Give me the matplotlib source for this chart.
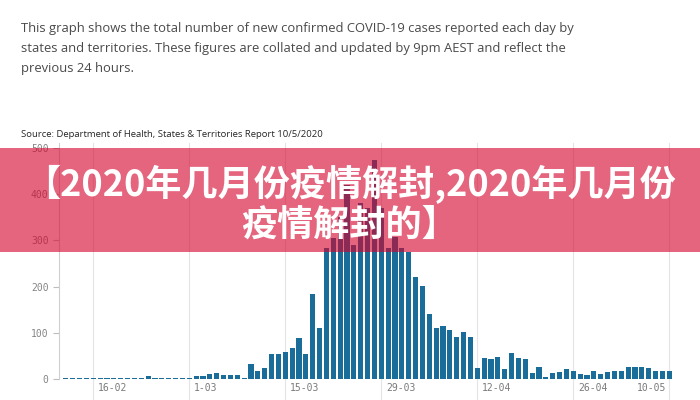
import matplotlib
matplotlib.use('Agg')
import matplotlib.pyplot as plt
import matplotlib.dates as mdates
import matplotlib.transforms as mtrans
from matplotlib.patches import Rectangle
import numpy as np
import pandas as pd

# ---------------- data ----------------
start_date = '2020-02-12'
feb_cases = [3, 3, 3, 3, 3, 3, 3, 3, 3, 3, 3, 3, 8, 3, 3, 3, 3, 3]
mar_cases = [3, 7, 7, 11, 13, 10, 10, 9, 2, 33, 18, 25, 55, 55, 60, 67, 90, 55,
             184, 110, 284, 305, 350, 420, 290, 380, 370, 474, 370, 283, 308]
apr_cases = [283, 276, 220, 201, 142, 110, 115, 106, 92, 103, 91, 24, 47, 43, 49,
             23, 57, 45, 44, 14, 27, 6, 13, 15, 22, 18, 11, 9, 18, 11]
may_cases = [15, 17, 17, 27, 27, 26, 24, 19, 19, 17]
tick_dates = ['2020-02-16', '2020-03-01', '2020-03-15', '2020-03-29',
              '2020-04-12', '2020-04-26', '2020-05-10']
tick_labels = ['16-02', '1-03', '15-03', '29-03', '12-04', '26-04', '10-05']
y_ticks = [0, 100, 200, 300, 400, 500]

intro_lines = [
    'This graph shows the total number of new confirmed COVID-19 cases reported each day by',
    'states and territories. These figures are collated and updated by 9pm AEST and reflect the',
    'previous 24 hours.',
]
source_text = 'Source: Department of Health, States & Territories Report 10/5/2020'
banner_lines = ['【2020年几月份疫情解封,2020年几月份', '疫情解封的】']

# ---------------- figure ----------------
W, H = 700, 400
fig = plt.figure(figsize=(W / 100, H / 100), dpi=100)
fig.patch.set_facecolor('white')

values = feb_cases + mar_cases + apr_cases + may_cases
dates = pd.date_range(start_date, periods=len(values), freq='D')
xnum = mdates.date2num(dates.to_pydatetime())

px_day = 6.857
x0_px = 59.0
zero_px = 379.3
top_px = 143.2
day_left = mdates.date2num(pd.Timestamp('2020-02-11').to_pydatetime())
day_right = mdates.date2num(pd.Timestamp('2020-05-10').to_pydatetime()) + 0.5
ax_w = (day_right - day_left) * px_day
ax_h = zero_px - top_px
ax = fig.add_axes([x0_px / W, (H - zero_px) / H, ax_w / W, ax_h / H])
ax.set_xlim(day_left, day_right)
ax.set_ylim(0, 510)

ax.bar(xnum, values, width=0.75, color='#1a6c99', linewidth=0, zorder=2)

for s in ['top', 'right', 'bottom']:
    ax.spines[s].set_visible(False)
ax.spines['left'].set_color('#cfcfcf')
ax.spines['left'].set_linewidth(0.8)

# vertical gridlines extending to bottom of figure
tick_nums = [mdates.date2num(pd.Timestamp(d).to_pydatetime()) for d in tick_dates]
ymin_ext = -(H - zero_px) / ax_h
for t in tick_nums:
    ax.axvline(t, ymin=ymin_ext, ymax=1, color='#e4e4e4', lw=0.8,
               clip_on=False, zorder=0)

ax.set_xticks(tick_nums)
ax.set_xticklabels(tick_labels)
ax.tick_params(axis='x', length=0, pad=3, labelsize=7, labelcolor='#7a7a7a')
for i, lbl in enumerate(ax.get_xticklabels()):
    lbl.set_fontfamily('DejaVu Sans Mono')
    if i == len(tick_labels) - 1:
        lbl.set_ha('right')
        lbl.set_transform(lbl.get_transform() +
                          mtrans.ScaledTranslation(-3 / 100, 0, fig.dpi_scale_trans))
    else:
        lbl.set_ha('left')
        lbl.set_transform(lbl.get_transform() +
                          mtrans.ScaledTranslation(5 / 100, 0, fig.dpi_scale_trans))

ax.set_yticks(y_ticks)
ax.tick_params(axis='y', length=4, width=0.8, color='#bdbdbd', pad=3.5,
               labelsize=7, labelcolor='#858585')
for lbl in ax.get_yticklabels():
    lbl.set_fontfamily('DejaVu Sans Mono')

# ---------------- texts ----------------
renderer = fig.canvas.get_renderer()


def fit(t, target):
    bb = t.get_window_extent(renderer)
    t.set_fontsize(t.get_fontsize() * target / bb.width)


intro_y = [31.7, 51.7, 71.7]
intro = []
for line, yb in zip(intro_lines, intro_y):
    intro.append(fig.text(21 / W, 1 - yb / H, line, ha='left', va='baseline',
                          fontsize=10, color='#4a4a4a', family='Open Sans'))
fit(intro[0], 551)
for t in intro[1:]:
    t.set_fontsize(intro[0].get_fontsize())

src = fig.text(21 / W, 1 - 136.7 / H, source_text, ha='left', va='baseline',
               fontsize=8, color='#262626', family='Open Sans')
fit(src, 304)

# ---------------- banner ----------------
band = Rectangle((0, 1 - 252 / H), 1, 104 / H, transform=fig.transFigure,
                 facecolor='#d4032b', alpha=0.61, edgecolor='none', zorder=5)
fig.add_artist(band)
by = [184, 225]
for line, yc in zip(banner_lines, by):
    fig.text(0.5, 1 - yc / H, line, ha='center', va='center', color='white',
             fontsize=26, fontweight='heavy', family=['Noto Sans CJK SC'],
             zorder=6)

fig.savefig('out.png', dpi=100, facecolor='white')
